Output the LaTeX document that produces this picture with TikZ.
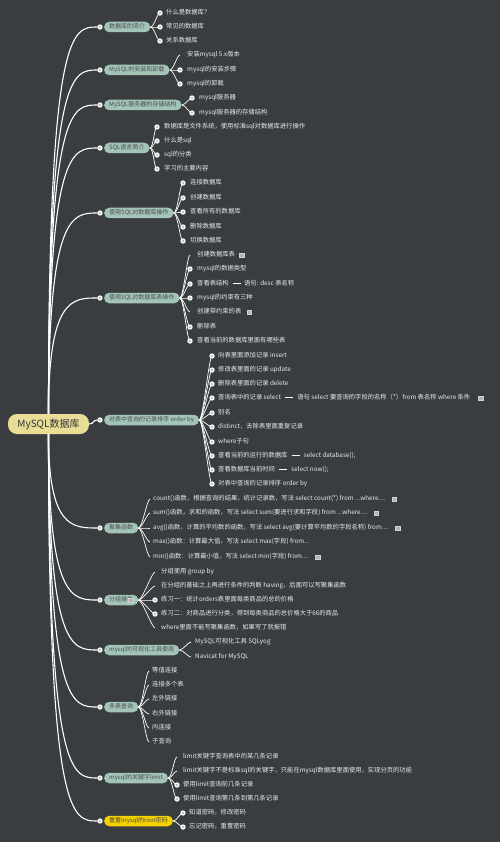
\documentclass[tikz,border=0pt]{standalone}
\usepackage{fontspec}
\setmainfont{Noto Sans CJK SC}
\usepackage{xcolor}
\usetikzlibrary{positioning, calc}

\definecolor{board}{RGB}{57,61,64}
\definecolor{topicfill}{RGB}{163,197,184}
\definecolor{rootfill}{RGB}{234,221,152}
\definecolor{hotfill}{RGB}{245,209,0}
\definecolor{leaftext}{RGB}{235,235,235}
\newcommand{\trail}{...}

\begin{document}
\begin{tikzpicture}[x=1pt, y=-1pt,
	root/.style={fill=rootfill, rounded corners=9pt, minimum width=81pt, minimum height=20pt, inner sep=0pt, text=black!80, font=\fontsize{10}{12}\selectfont},
	topic/.style={fill=topicfill, rounded corners=5pt, anchor=west, minimum height=10.5pt, inner xsep=5pt, inner ysep=0pt, text=black!70, text height=4.8pt, text depth=1.2pt, font=\fontsize{6}{7}\selectfont},
	leaf/.style={anchor=west, inner sep=0pt, text=leaftext, text height=5pt, text depth=1.3pt, font=\fontsize{6.3}{7}\selectfont},
	pin/.style={circle, draw=white, fill=gray!45, line width=1.1pt, inner sep=0pt, minimum size=4.2pt},
	note/.style={fill=gray!60, draw=gray!35, line width=0.3pt, inner sep=0pt, minimum size=4.5pt},
	link/.style={white, line width=1.1pt},
	twig/.style={white, line width=0.7pt},
	bar/.style={white, line width=1pt}]
	\fill[board] (0,0) rectangle (500,842);
	\node[root] (root) at (48.5,424) {MySQL数据库};
	\foreach \i/\y in {1/27, 2/70, 3/105, 4/148, 5/213, 6/298, 7/420, 8/528, 9/600, 10/650, 11/707, 12/778, 13/821}
	\node[pin] (l\i) at (100,\y) {};
	\node[topic] (b1) at (104,27) {数据库的简介};
	\node[topic] (b2) at (104,70) {MySQL的安装和卸载};
	\node[topic] (b3) at (104,105) {MySQL服务器的存储结构};
	\node[topic] (b4) at (104,148) {SQL语言简介};
	\node[topic] (b5) at (104,213) {使用SQL对数据库操作};
	\node[topic] (b6) at (104,298) {使用SQL对数据库表操作};
	\node[topic] (b7) at (104,420) {对表中查询的记录排序 order by};
	\node[topic] (b8) at (104,528) {聚集函数};
	\node[topic] (b9) at (104,600) {分组操作\hspace{8pt}};
	\node[note] (n9) at ([xshift=-8pt]b9.east) {};
	\node[topic] (b10) at (104,650) {mysql的可视化工具使用};
	\node[topic] (b11) at (104,707) {多表查询};
	\node[topic] (b12) at (104,778) {mysql的关键字limit};
	\node[topic, fill=hotfill] (b13) at (104,821) {重置mysql的root密码};
	\foreach \i in {1,...,6}
	\draw[link] (root.north) .. controls (root.north |- l\i) and +(-25,0) .. (l\i.west);
	\draw[link] (root.east) .. controls +(5,0) and +(-5,0) .. (l7.west);
	\foreach \i in {8,...,13}
	\draw[link] (root.south) .. controls (root.south |- l\i) and +(-25,0) .. (l\i.west);
	\foreach \y/\t [count=\k] in {13/什么是数据库？, 27/常见的数据库, 41/关系数据库}{
		\coordinate (e1-\k) at (160,\y);
		\node[leaf] (c1-\k) at (166,\y) {\t};
		\draw[twig] (b1.east) .. controls +(4,0) and +(-3,0) .. (e1-\k);
		\node[pin] (p1-\k) at (e1-\k) {};
	}
	\foreach \y/\t [count=\k] in {55/安装mysql 5.x版本, 70/mysql的安装步骤, 84/mysql的卸载}{
		\coordinate (e2-\k) at (180,\y);
		\node[leaf] (c2-\k) at (187,\y) {\t};
		\draw[twig] (b2.east) .. controls +(4,0) and +(-3,0) .. (e2-\k);
	}
	\foreach \k in {2,3} \node[pin] (p2-\k) at (e2-\k) {};
	\foreach \y/\t [count=\k] in {98/mysql服务器, 113/mysql服务器的存储结构}{
		\coordinate (e3-\k) at (192,\y);
		\node[leaf] (c3-\k) at (199,\y) {\t};
		\draw[twig] (b3.east) .. controls +(4,0) and +(-3,0) .. (e3-\k);
		\node[pin] (p3-\k) at (e3-\k) {};
	}
	\foreach \y/\t [count=\k] in {127/数据库是文件系统，使用标准sql对数据库进行操作, 141/什么是sql, 155/sql的分类, 169/学习的主要内容}{
		\coordinate (e4-\k) at (157,\y);
		\node[leaf] (c4-\k) at (164,\y) {\t};
		\draw[twig] (b4.east) .. controls +(4,0) and +(-3,0) .. (e4-\k);
		\node[pin] (p4-\k) at (e4-\k) {};
	}
	\foreach \y/\t [count=\k] in {183/连接数据库, 198/创建数据库, 212/查看所有的数据库, 227/删除数据库, 241/切换数据库}{
		\coordinate (e5-\k) at (183,\y);
		\node[leaf] (c5-\k) at (190,\y) {\t};
		\draw[twig] (b5.east) .. controls +(4,0) and +(-3,0) .. (e5-\k);
		\node[pin] (p5-\k) at (e5-\k) {};
	}
	\foreach \y/\t [count=\k] in {255/创建数据库表, 269/mysql的数据类型, 284/查看表结构, 298/mysql的约束有三种, 312/创建带约束的表, 327/删除表, 341/查看当前的数据库里面有哪些表}{
		\coordinate (e6-\k) at (190,\y);
		\node[leaf] (c6-\k) at (197,\y) {\t};
		\draw[twig] (b6.east) .. controls +(4,0) and +(-3,0) .. (e6-\k);
	}
	\foreach \k in {2,3,4,6,7} \node[pin] (p6-\k) at (e6-\k) {};
	\node[note, right=4pt of c6-1] (n6-1) {};
	\node[note, right=5pt of c6-5] (n6-5) {};
	\node[leaf, right=15pt of c6-3] (t6-3) {语句: desc 表名称};
	\draw[bar] ([xshift=4pt, yshift=1pt]c6-3.east) -- ([xshift=-3pt, yshift=1pt]t6-3.west);
	\foreach \y/\t [count=\k] in {356/向表里面添加记录 insert, 370/修改表里面的记录 update, 384/删除表里面的记录 delete, 398/查询表中的记录 select, 413/别名, 427/distinct，去除表里面重复记录, 442/where子句, 456/查看当前的运行的数据库, 470/查看数据库当前时间, 484/对表中查询的记录排序 order by}{
		\coordinate (e7-\k) at (212,\y);
		\node[leaf] (c7-\k) at (218,\y) {\t};
		\draw[twig] (b7.east) .. controls +(4,0) and +(-3,0) .. (e7-\k);
		\node[pin] (p7-\k) at (e7-\k) {};
	}
	\node[leaf, right=16pt of c7-4] (t7-4) {语句 select 要查询的字段的名称（*）from 表名称 where 条件};
	\node[note, right=8pt of t7-4] (n7-4) {};
	\node[leaf, right=16pt of c7-8] (t7-8) {select database();};
	\node[leaf, right=16pt of c7-9] (t7-9) {select now();};
	\foreach \k in {4,8,9}
	\draw[bar] ([xshift=4pt, yshift=1pt]c7-\k.east) -- ([xshift=-4pt, yshift=1pt]t7-\k.west);
	\foreach \y/\t [count=\k] in {499/count()函数，根据查询的结果，统计记录数，写法 select count(*) from \trail{}where\trail., 513/sum()函数，求和的函数，写法 select sum(要进行求和字段) from \trail{}where\trail., 528/avg()函数，计算的平均数的函数，写法 select avg(要计算平均数的字段名称) from\trail., 542/max()函数：计算最大值，写法 select max(字段) from\trail, 557/min()函数：计算最小值，写法 select min(字段) from\trail.}{
		\coordinate (e8-\k) at (150,\y);
		\node[leaf] (c8-\k) at (153,\y) {\t};
		\draw[twig] (b8.east) .. controls +(4,0) and +(-3,0) .. (e8-\k);
	}
	\foreach \k in {1,2,3,5} \node[note, right=6pt of c8-\k] (n8-\k) {};
	\foreach \y/\t [count=\k] in {572/分组使用 group by, 586/在分组的基础之上再进行条件的判断 having，后面可以写聚集函数, 600/练习一：统计orders表里面每类商品的总的价格, 614/练习二：对商品进行分类，得到每类商品的总价格大于66的商品, 628/where里面不能写聚集函数，如果写了就报错}{
		\coordinate (e9-\k) at (155,\y);
		\node[leaf] (c9-\k) at (161,\y) {\t};
		\draw[twig] (b9.east) .. controls +(4,0) and +(-3,0) .. (e9-\k);
	}
	\foreach \k in {3,4} \node[pin] (p9-\k) at (e9-\k) {};
	\foreach \y/\t [count=\k] in {642/MySQL可视化工具 SQLyog, 657/Navicat for MySQL}{
		\coordinate (e10-\k) at (191,\y);
		\node[leaf] (c10-\k) at (195,\y) {\t};
		\draw[twig] (b10.east) .. controls +(4,0) and +(-3,0) .. (e10-\k);
	}
	\foreach \y/\t [count=\k] in {671/等值连接, 685/连接多个表, 699/左外链接, 714/右外链接, 728/内连接, 742/子查询}{
		\coordinate (e11-\k) at (149,\y);
		\node[leaf] (c11-\k) at (152,\y) {\t};
		\draw[twig] (b11.east) .. controls +(4,0) and +(-3,0) .. (e11-\k);
	}
	\foreach \y/\t [count=\k] in {757/limit关键字查询表中的某几条记录, 771/limit关键字不是标准sql的关键字，只能在mysql数据库里面使用，实现分页的功能, 785/使用limit查询前几条记录, 799/使用limit查询第几条到第几条记录}{
		\coordinate (e12-\k) at (177,\y);
		\node[leaf] (c12-\k) at (183,\y) {\t};
		\draw[twig] (b12.east) .. controls +(4,0) and +(-3,0) .. (e12-\k);
	}
	\foreach \k in {3,4} \node[pin] (p12-\k) at (e12-\k) {};
	\foreach \y/\t [count=\k] in {813/知道密码，修改密码, 827/忘记密码，重置密码}{
		\coordinate (e13-\k) at (183,\y);
		\node[leaf] (c13-\k) at (189,\y) {\t};
		\draw[twig] (b13.east) .. controls +(4,0) and +(-3,0) .. (e13-\k);
		\node[pin] (p13-\k) at (e13-\k) {};
	}
\end{tikzpicture}
\end{document}
